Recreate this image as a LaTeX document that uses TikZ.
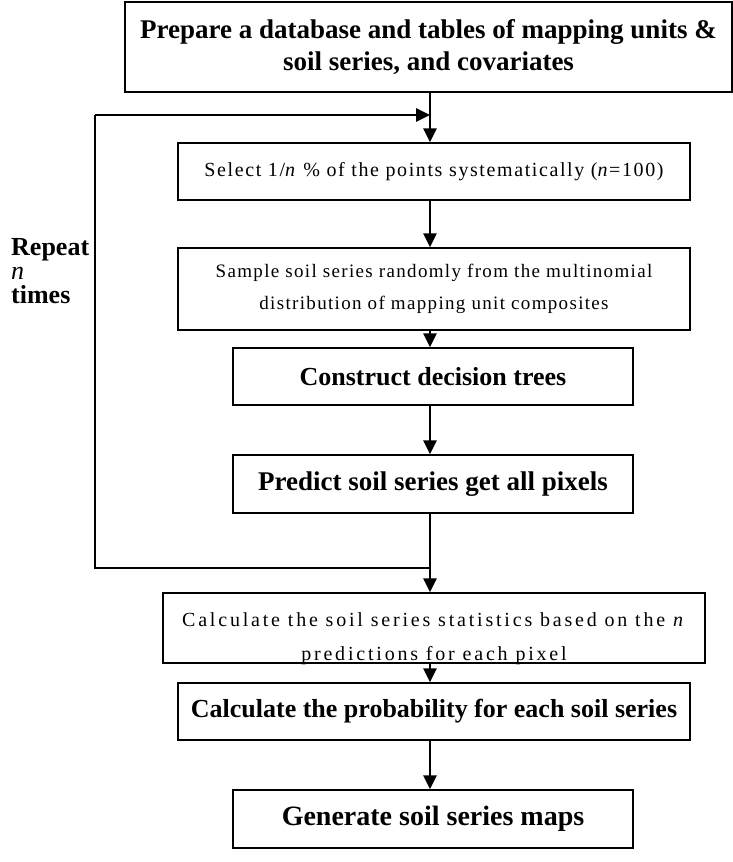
\documentclass[tikz,border=0pt]{standalone}
\usepackage{fontspec}
\setmainfont{Liberation Serif}
\usetikzlibrary{arrows.meta,calc}
\begin{document}
\begin{tikzpicture}[x=1pt,y=-1pt,
  box/.style={draw,line width=1.4pt,inner sep=0pt,align=center},
  boldtxt/.style={font=\fontsize{26}{32}\selectfont\bfseries},
  regtxt/.style={font=\fontsize{20}{28}\selectfont\addfontfeature{LetterSpace=8}},
  widetxt/.style={font=\fontsize{20}{28}\selectfont\addfontfeature{LetterSpace=14}},
  arr/.style={line width=2.6pt,-{Triangle[length=14pt,width=13pt]}},
  lin/.style={line width=1.4pt}]
\useasboundingbox (0,0) rectangle (733,862);
\coordinate (ax) at (430,0);
\node[box,font=\fontsize{27}{32}\selectfont\bfseries,minimum width=607pt,minimum height=90pt] (b1) at (428.5,47)
  {Prepare a database and tables of mapping units \&\\soil series, and covariates};
\node[box,regtxt,minimum width=512pt,minimum height=57pt] (b2) at (434,171.5)
  {Select 1/\textit{n} \% of the points systematically (\textit{n}=100)};
\node[box,font=\fontsize{19}{32}\selectfont\addfontfeature{LetterSpace=7},minimum width=512pt,minimum height=82pt] (b3) at (434,289)
  {Sample soil series randomly from the multinomial\\distribution of mapping unit composites};
\node[box,boldtxt,minimum width=400pt,minimum height=57pt] (b4) at (433,376.5)
  {Construct decision trees};
\node[box,font=\fontsize{27}{32}\selectfont\bfseries,minimum width=400pt,minimum height=58pt] (b5) at (433,484)
  {Predict soil series get all pixels};
\node[box,minimum width=542pt,minimum height=70pt] (b6) at (434,628) {};
\begin{scope}
  \clip ([xshift=1pt,yshift=-1pt]b6.south west) rectangle ([xshift=-1pt]b6.north east);
  \node[widetxt,anchor=base,inner sep=0pt] (t6a) at (434,626)
    {Calculate the soil series statistics based on the \textit{n}};
  \node[widetxt,anchor=base,inner sep=0pt] (t6b) at (434,660)
    {predictions for each pixel};
\end{scope}
\node[box,boldtxt,minimum width=512pt,minimum height=57pt] (b7) at (434,711.5)
  {Calculate the probability for each soil series};
\node[box,font=\fontsize{28}{32}\selectfont\bfseries,minimum width=400pt,minimum height=58pt] (b8) at (433,819)
  {Generate soil series maps};
\node[font=\fontsize{26}{24}\selectfont\bfseries,align=left,anchor=north west,inner sep=0pt] (rep) at (11,238)
  {Repeat\\{\mdseries\itshape n}\\times};
\coordinate (lt) at (95,115);
\coordinate (lb) at (95,568);
\draw[arr] (b1.south -| ax) -- (b2.north -| ax);
\draw[arr] (b2.south -| ax) -- (b3.north -| ax);
\draw[arr] (b3.south -| ax) -- (b4.north -| ax);
\draw[arr] (b4.south -| ax) -- (b5.north -| ax);
\draw[arr] (b5.south -| ax) -- (b6.north -| ax);
\draw[arr] (b6.south -| ax) -- (b7.north -| ax);
\draw[arr] (b7.south -| ax) -- (b8.north -| ax);
\draw[lin] (lb -| ax) -- (lb) -- (lt);
\draw[arr] (lt) -- (lt -| ax);
\end{tikzpicture}
\end{document}
